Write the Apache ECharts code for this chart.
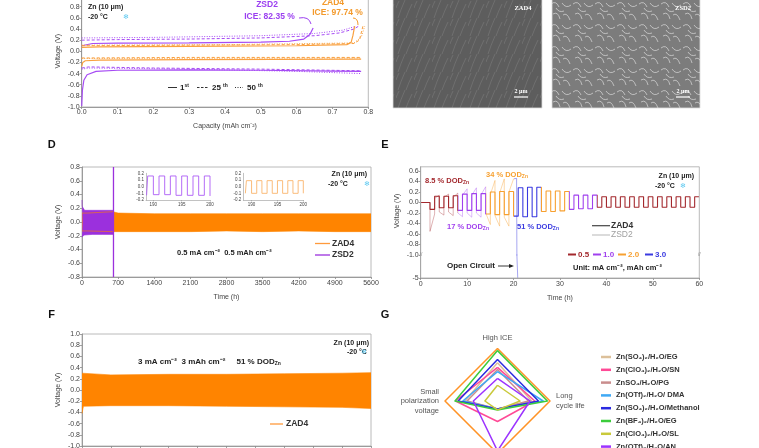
<!DOCTYPE html>
<html>
<head>
<meta charset="utf-8">
<script src="https://cdn.jsdelivr.net/npm/echarts@6/dist/echarts.min.js"></script>
<style>html,body{margin:0;padding:0;background:#fff}#main{width:759px;height:448px}</style>
</head>
<body>
<div id="main"></div>
<script>
var FONT = 'Liberation Sans, Arial, sans-serif';

//------------------ capacity panel (top left) ------------------
var zsd2FirstChg = [[0,0.1],[0.005,0.13],[0.03,0.14],[0.1,0.145],[0.3,0.15],[0.5,0.165],[0.58,0.18],[0.62,0.22],[0.637,0.3],[0.646,0.42]];
var zsd2FirstDis = [[0,-0.98],[0.002,-0.7],[0.006,-0.52],[0.015,-0.42],[0.04,-0.36],[0.1,-0.34],[0.3,-0.335],[0.5,-0.34],[0.7,-0.355],[0.78,-0.36]];
var zsd2Cyc25Chg = [[0,0.2],[0.1,0.21],[0.3,0.22],[0.5,0.24],[0.65,0.28],[0.72,0.33],[0.76,0.4],[0.775,0.46]];
var zsd2Cyc25Dis = [[0,-0.3],[0.02,-0.28],[0.2,-0.3],[0.5,-0.32],[0.78,-0.35]];
var zsd2Cyc50Chg = [[0,0.24],[0.2,0.25],[0.5,0.28],[0.65,0.32],[0.73,0.38],[0.765,0.45]];
var zsd2Cyc50Dis = [[0,-0.32],[0.02,-0.3],[0.3,-0.32],[0.6,-0.36],[0.78,-0.4]];
var zad4FirstChg = [[0,0.07],[0.05,0.08],[0.3,0.09],[0.6,0.1],[0.74,0.12],[0.752,0.16],[0.757,0.28],[0.762,0.45]];
var zad4FirstDis = [[0,-0.27],[0.003,-0.2],[0.01,-0.17],[0.05,-0.16],[0.3,-0.15],[0.78,-0.14]];
var zad4Cyc25Chg = [[0,0.1],[0.3,0.11],[0.6,0.12],[0.76,0.14],[0.775,0.2],[0.785,0.45]];
var zad4Cyc25Dis = [[0,-0.12],[0.3,-0.11],[0.78,-0.11]];
var zad4Cyc50Chg = [[0,0.11],[0.4,0.12],[0.76,0.15],[0.78,0.25],[0.79,0.45]];
var zad4Cyc50Dis = [[0,-0.13],[0.78,-0.12]];

//------------------ panel D ------------------
var dZad4Time  = [0, 100, 600, 700, 1400, 2100, 2800, 3500, 4200, 4900, 5600];
var dZad4Upper = [0.13, 0.13, 0.15, 0.13, 0.12, 0.12, 0.12, 0.12, 0.12, 0.12, 0.12];
var dZad4Lower = [-0.13, -0.13, -0.14, -0.14, -0.14, -0.14, -0.13, -0.14, -0.13, -0.14, -0.14];
var dZsd2Time  = [0, 3, 10, 40, 50, 200, 400, 605];
var dZsd2Upper = [0.32, 0.23, 0.22, 0.21, 0.17, 0.17, 0.17, 0.17];
var dZsd2Lower = [-0.22, -0.2, -0.2, -0.19, -0.18, -0.18, -0.18, -0.18];
var dZsd2FailTime = 610;
var dInsetHours  = [188.8, 189, 190, 191, 192, 193, 194, 195, 196, 197, 198, 199, 200];
var dInsetPurple = [-0.13, 0.16, -0.12, 0.16, -0.12, 0.16, -0.13, 0.16, -0.13, 0.16, -0.13, 0.16, -0.14];
var dInsetOrange = [-0.1, 0.09, -0.1, 0.09, -0.1, 0.09, -0.1, 0.09, -0.1, 0.09, -0.1, 0.09, -0.1];

//------------------ panel E (hourly levels, hour index = time) ------------------
var eZad4Level = [0, 0,
  -0.13, 0.12, -0.1, 0.12, -0.1, 0.13,
  -0.15, 0.16, -0.15, 0.17, -0.15, 0.17,
  -0.22, 0.2, -0.23, 0.21, -0.23, 0.21,
  -0.26, 0.28, -0.27, 0.29, -0.27, 0.29,
  -0.17, 0.22, -0.17, 0.22, -0.16, 0.21,
  -0.13, 0.14, -0.12, 0.14, -0.12, 0.14,
  -0.09, 0.11, -0.09, 0.11, -0.09, 0.11, -0.09, 0.11, -0.09, 0.11, -0.09,
  0.11, -0.09, 0.11, -0.09, 0.11, -0.09, 0.11, -0.09, 0.11, -0.09, 0.11];
var eZsd2Start = [0, 0, -0.55, 0.08, -0.18, 0.1, -0.18, 0.1, -0.2, 0.14, -0.2, 0.14, -0.2, 0.15, -0.2, 0.15, -0.25, 0.18, -0.28, 0.2];
var eZsd2End   = [0, 0, -0.22, 0.14, -0.24, 0.16, -0.25, 0.18, -0.27, 0.26, -0.28, 0.28, -0.28, 0.3, -0.42, 0.42, -0.45, 0.45, -0.45, 0.45];
var eZsd2Tail  = [[20, 0.42], [20.65, 0.46], [20.9, -5]];
var eRateStart = [0, 8, 14, 20, 26, 32, 38];
var eRateEnd   = [8, 14, 20, 26, 32, 38, 60];
var eRateColor = ['#a3282d', '#a040ee', '#f7a030', '#3a3ae0', '#f7a030', '#a040ee', '#a3282d'];
var eRateLight = ['rgba(163,40,45,0.4)', 'rgba(160,64,238,0.4)', 'rgba(247,160,48,0.45)', 'rgba(58,58,224,0.5)', 'rgba(247,160,48,0.45)', 'rgba(160,64,238,0.4)', 'rgba(163,40,45,0.4)'];

//------------------ panel F ------------------
var fTime  = [0, 5, 100, 300, 500, 700, 900, 1000];
var fUpper = [0.3, 0.27, 0.27, 0.28, 0.28, 0.29, 0.3, 0.31];
var fLower = [-0.42, -0.29, -0.28, -0.28, -0.29, -0.3, -0.31, -0.33];

//------------------ panel G (radar) ------------------
var gAxes   = ['High ICE', 'Small\npolarization\nvoltage', 'High DOD', 'Long\ncycle life'];
var gNames  = ['ZAD4', 'Zn(SO₄)₂/H₂O/EG', 'Zn(ClO₄)₂/H₂O/SN', 'ZnSO₄/H₂O/PG', 'Zn(OTf)₂/H₂O/ DMA', 'Zn(SO₄)₂/H₂O/Methanol', 'Zn(BF₄)₂/H₂O/EG', 'Zn(ClO₄)₂/H₂O/SL', 'Zn(OTf)₂/H₂O/AN'];
var gColors = ['#ff9326', '#dcc09a', '#ff4a96', '#c98d8d', '#3fa9f5', '#2a2ae0', '#3ccc3c', '#c9c93a', '#9c33ff'];
var gValues = [
  [1, 1, 1, 1],
  [0.73, 0.62, 0.15, 0.65],
  [0.64, 0.8, 0.39, 0.71],
  [0.6, 0.58, 0.15, 0.59],
  [0.56, 0.66, 0.15, 0.87],
  [0.79, 0.75, 0.15, 0.78],
  [0.96, 0.81, 0.17, 0.95],
  [0.3, 0.24, 0.17, 0.43],
  [0.43, 0.46, 0.95, 0.62]
];

//------------------ helpers ------------------
function pairs(xs, ys) {
    var out = [];
    for (var i = 0; i < xs.length; i++) out.push([xs[i], ys[i]]);
    return out;
}
function fix1(v) { return v.toFixed(1); }
function plain(v) { return String(v); }
function box(left, top, width, height, border) {
    return {left: left, top: top, width: width, height: height, show: border,
        borderColor: '#a8a8a8', borderWidth: 0.8, backgroundColor: 'transparent', outerBoundsMode: 'none'};
}
function vAxis(gi, min, max, itv, extra) {
    var a = {type: 'value', gridIndex: gi, min: min, max: max, interval: itv,
        axisLine: {show: true, onZero: false, lineStyle: {color: '#8a8a8a', width: 0.8}},
        axisTick: {show: true, length: 2, lineStyle: {color: '#8a8a8a', width: 0.8}},
        axisLabel: {fontSize: 7, color: '#444', margin: 2, fontFamily: FONT, formatter: fix1},
        splitLine: {show: false},
        nameLocation: 'middle',
        nameTextStyle: {fontSize: 7, color: '#444', fontFamily: FONT}};
    for (var k in extra) a[k] = extra[k];
    return a;
}
function lineS(xi, data, color, width, dash, extra) {
    var s = {type: 'line', xAxisIndex: xi, yAxisIndex: xi, data: data, symbol: 'none',
        lineStyle: {width: width, type: dash || 'solid'}, z: 3};
    if (color) { s.lineStyle.color = color; s.itemStyle = {color: color}; }
    for (var k in extra) s[k] = extra[k];
    return s;
}
function bandS(xi, data, color) {
    return lineS(xi, data, color, 0.6, null, {areaStyle: {color: color, opacity: 1}});
}

// texture tiles for the two micrograph placeholders
function tile(w, bg, strokes, col, lw) {
    var c = document.createElement('canvas');
    c.width = w; c.height = w;
    var g = c.getContext('2d');
    g.fillStyle = bg; g.fillRect(0, 0, w, w);
    g.strokeStyle = col; g.lineWidth = lw;
    for (var i = 0; i < strokes.length; i++) {
        var s = strokes[i];
        g.beginPath(); g.moveTo(s[0], s[1]); g.quadraticCurveTo(s[2], s[3], s[4], s[5]); g.stroke();
    }
    return c;
}
var semFlat = tile(18, '#5d5d5d', [[2, 18, 5, 9, 9, 0], [10, 18, 12, 12, 16, 4], [0, 8, 1, 5, 3, 1]], 'rgba(150,150,150,0.55)', 0.6);
var semRough = tile(22, '#7c7c7c', [[1, 4, 6, 0, 9, 7], [12, 3, 16, 9, 21, 5], [3, 14, 8, 11, 10, 19], [13, 15, 17, 12, 20, 20], [6, 8, 9, 13, 14, 11]], 'rgba(235,235,235,0.75)', 0.8);

var graphics = [];
function T(x, y, s, o) {
    var st = {text: s, x: 0, y: 0, fontSize: 7.5, fontWeight: 'bold', fontFamily: FONT, fill: '#222', align: 'left', verticalAlign: 'middle',
        rich: {sup: {fontSize: 5, fontWeight: 'bold', fontFamily: FONT, verticalAlign: 'top'},
               sub: {fontSize: 5, fontWeight: 'bold', fontFamily: FONT, verticalAlign: 'bottom'}}};
    for (var k in o) st[k] = o[k];
    if (o && o.fill) { st.rich.sup.fill = o.fill; st.rich.sub.fill = o.fill; }
    graphics.push({type: 'text', x: x, y: y, z: 10, style: st});
}
function L(x1, y1, x2, y2, color, w, dash) {
    graphics.push({type: 'line', z: 10, shape: {x1: x1, y1: y1, x2: x2, y2: y2},
        style: {stroke: color, lineWidth: w, lineDash: dash || null}});
}
function snow(x, y) { T(x, y, '❄', {fill: '#55c6f0', fontSize: 7, fontWeight: 'normal', align: 'center'}); }

//------------------ series ------------------
var series = [];
var PUR = '#a64bf4', ORA = '#f9a03f';
series.push(lineS(0, zsd2Cyc50Chg, PUR, 1, [1, 1.5]));
series.push(lineS(0, zsd2Cyc50Dis, PUR, 1, [1, 1.5]));
series.push(lineS(0, zsd2Cyc25Chg, PUR, 1, [3, 2]));
series.push(lineS(0, zsd2Cyc25Dis, PUR, 1, [3, 2]));
series.push(lineS(0, zsd2FirstChg, PUR, 1.2));
series.push(lineS(0, zsd2FirstDis, PUR, 1.2));
series.push(lineS(0, zad4Cyc50Chg, ORA, 1, [1, 1.5]));
series.push(lineS(0, zad4Cyc50Dis, ORA, 1, [1, 1.5]));
series.push(lineS(0, zad4Cyc25Chg, ORA, 1, [3, 2]));
series.push(lineS(0, zad4Cyc25Dis, ORA, 1, [3, 2]));
series.push(lineS(0, zad4FirstChg, ORA, 1.2));
series.push(lineS(0, zad4FirstDis, ORA, 1.2));

// D
series.push(bandS(1, pairs(dZad4Time, dZad4Upper), '#ff8400'));
series.push(bandS(1, pairs(dZad4Time, dZad4Lower), '#ff8400'));
series.push(bandS(1, pairs(dZsd2Time, dZsd2Upper), '#9b30dd'));
series.push(bandS(1, pairs(dZsd2Time, dZsd2Lower), '#9b30dd'));
series.push(lineS(1, [[dZsd2FailTime, -0.8], [dZsd2FailTime, 0.8]], '#9b30dd', 1.3));
series.push(lineS(2, pairs(dInsetHours, dInsetPurple), '#ad5cf6', 0.9, null, {step: 'end'}));
series.push(lineS(3, pairs(dInsetHours, dInsetOrange), '#f9b46c', 0.9, null, {step: 'end'}));

// E
var eZsd2Data = [];
for (var h = 0; h < eZsd2Start.length; h++) {
    eZsd2Data.push([h, eZsd2Start[h]]);
    eZsd2Data.push([h + 1, eZsd2End[h]]);
}
eZsd2Data = eZsd2Data.concat(eZsd2Tail);
var eZad4Data = [];
for (var j = 0; j < eZad4Level.length; j++) eZad4Data.push([j, eZad4Level[j]]);
eZad4Data.push([eZad4Level.length, eZad4Level[eZad4Level.length - 1]]);
var eZsd2Idx = series.length;
series.push(lineS(4, eZsd2Data, null, 0.9));
var eZad4Idx = series.length;
series.push(lineS(4, eZad4Data, null, 1.1, null, {step: 'end'}));
series.push(lineS(5, eZsd2Tail, eRateLight[3], 0.9));

// F
series.push(bandS(6, pairs(fTime, fUpper), '#ff8400'));
series.push(bandS(6, pairs(fTime, fLower), '#ff8400'));

// G
var radarData = [];
for (var r = 0; r < gNames.length; r++) {
    radarData.push({name: gNames[r], value: gValues[r],
        itemStyle: {color: gColors[r]}, lineStyle: {color: gColors[r], width: 1.5}});
}
series.push({type: 'radar', radarIndex: 0, symbol: 'none', data: radarData, z: 3});

function pieces(cols) {
    var p = [];
    for (var i = 0; i < eRateStart.length; i++) {
        if (i === eRateStart.length - 1) p.push({gte: eRateStart[i], lte: eRateEnd[i], color: cols[i]});
        else p.push({gte: eRateStart[i], lt: eRateEnd[i], color: cols[i]});
    }
    return p;
}

//------------------ texts ------------------
// top left
T(88, 7, 'Zn (10 μm)', {fontSize: 7});
T(88, 17.5, '-20 °C', {fontSize: 7});
snow(126, 17.5);
T(267, 5, 'ZSD2', {fill: '#9b3ff0', fontSize: 8.5, align: 'center'});
T(269.5, 16.5, 'ICE: 82.35 %', {fill: '#9b3ff0', fontSize: 8.5, align: 'center'});
T(333, 3, 'ZAD4', {fill: '#f39a2c', fontSize: 8.5, align: 'center'});
T(337.5, 12.5, 'ICE: 97.74 %', {fill: '#f39a2c', fontSize: 8.5, align: 'center'});
graphics.push({type: 'bezierCurve', z: 10, shape: {x1: 299, y1: 18, x2: 311, y2: 24, cpx1: 309, cpy1: 16},
    style: {stroke: '#9b3ff0', lineWidth: 1, fill: null}});
graphics.push({type: 'bezierCurve', z: 10, shape: {x1: 353, y1: 18, x2: 358, y2: 25, cpx1: 358, cpy1: 18},
    style: {stroke: '#f39a2c', lineWidth: 1, fill: null}});
L(168, 87.5, 177, 87.5, '#333', 1);
T(180, 87.5, '1{sup|st}', {fontSize: 8});
L(197, 87.5, 208, 87.5, '#333', 1, [2.5, 1.5]);
T(212, 87.5, '25 {sup|th}', {fontSize: 8});
L(235, 87.5, 243, 87.5, '#333', 1, [1, 1.5]);
T(247, 87.5, '50 {sup|th}', {fontSize: 8});

// SEM micrographs (placeholders)
graphics.push({type: 'rect', z: 1, shape: {x: 393, y: -2, width: 149, height: 110},
    style: {fill: {image: semFlat, repeat: 'repeat'}, stroke: '#ddd', lineWidth: 0.8}});
graphics.push({type: 'rect', z: 1, shape: {x: 552, y: -2, width: 148, height: 110},
    style: {fill: {image: semRough, repeat: 'repeat'}, stroke: '#ddd', lineWidth: 0.8}});
T(523, 8, 'ZAD4', {fill: '#fff', fontSize: 6.5, align: 'center', fontFamily: 'Liberation Serif, serif'});
T(683, 8, 'ZSD2', {fill: '#fff', fontSize: 6.5, align: 'center', fontFamily: 'Liberation Serif, serif'});
T(521, 91, '2 μm', {fill: '#fff', fontSize: 6, align: 'center', fontFamily: 'Liberation Serif, serif'});
L(514, 97, 528, 97, '#fff', 1.2);
T(683, 91, '2 μm', {fill: '#fff', fontSize: 6, align: 'center', fontFamily: 'Liberation Serif, serif'});
L(676, 97, 690, 97, '#fff', 1.2);

// panel letters
T(51.7, 145, 'D', {fontSize: 11, align: 'center', fill: '#111'});
T(385, 145, 'E', {fontSize: 11, align: 'center', fill: '#111'});
T(51.7, 315, 'F', {fontSize: 11, align: 'center', fill: '#111'});
T(385, 315, 'G', {fontSize: 11, align: 'center', fill: '#111'});

// D
T(367, 174.5, 'Zn (10 μm)', {fontSize: 7, align: 'right'});
T(328, 184.5, '-20 °C', {fontSize: 7});
snow(367, 184.5);
T(177, 252.5, '0.5 mA cm⁻²  0.5 mAh cm⁻²', {fontSize: 7.5});
L(315, 243.5, 330, 243.5, '#ff9a3c', 1.3);
T(332, 243.5, 'ZAD4', {fontSize: 8.5, fill: '#333'});
L(315, 255, 330, 255, '#9b30dd', 1.3);
T(332, 255, 'ZSD2', {fontSize: 8.5, fill: '#333'});

// E
graphics.push({type: 'rect', z: 9, shape: {x: 420.7, y: 166.8, width: 278.6, height: 111.2},
    style: {fill: null, stroke: '#a8a8a8', lineWidth: 0.8}});
T(421, 255, '//', {fontSize: 5, fontWeight: 'normal', fill: '#888', align: 'center'});
T(699.3, 255, '//', {fontSize: 5, fontWeight: 'normal', fill: '#888', align: 'center'});
T(425, 181, '8.5 % DOD{sub|Zn}', {fill: '#a3282d', fontSize: 7.5});
T(447, 227, '17 % DOD{sub|Zn}', {fill: '#a040ee', fontSize: 7.5});
T(486, 175, '34 % DOD{sub|Zn}', {fill: '#f7a030', fontSize: 7.5});
T(517, 227, '51 % DOD{sub|Zn}', {fill: '#3a3ae0', fontSize: 7.5});
L(592, 225.7, 610, 225.7, '#444', 1.2);
T(611, 225.7, 'ZAD4', {fontSize: 8.5, fill: '#333'});
L(592, 235, 610, 235, '#c4c4c4', 1.2);
T(611, 235, 'ZSD2', {fontSize: 8.5, fill: '#a0a0a0', fontWeight: 'normal'});
var rateLbl = ['0.5', '1.0', '2.0', '3.0'];
var rateX = [568, 593, 618, 645];
var rateC = ['#a3282d', '#a040ee', '#f7a030', '#3a3ae0'];
for (var q = 0; q < 4; q++) {
    L(rateX[q], 254.5, rateX[q] + 8, 254.5, rateC[q], 2);
    T(rateX[q] + 10, 254.5, rateLbl[q], {fill: rateC[q], fontSize: 8});
}
T(573, 267.5, 'Unit: mA cm⁻², mAh cm⁻²', {fontSize: 7.5});
T(447, 266, 'Open Circuit', {fontSize: 8});
L(498, 266, 512, 266, '#222', 0.9);
graphics.push({type: 'polygon', z: 10, shape: {points: [[514, 266], [509, 264], [509, 268]]}, style: {fill: '#222'}});
T(694, 176.5, 'Zn (10 μm)', {fontSize: 7, align: 'right'});
T(655, 186.5, '-20 °C', {fontSize: 7});
snow(683, 186.5);

// F
T(369, 343, 'Zn (10 μm)', {fontSize: 7, align: 'right'});
T(347, 352.5, '-20 °C', {fontSize: 7});
snow(364, 352.5);
T(138, 362, '3 mA cm⁻²  3 mAh cm⁻²     51 % DOD{sub|Zn}', {fontSize: 8});
L(270, 424, 283, 424, '#ff9a3c', 1.3);
T(286, 424, 'ZAD4', {fontSize: 8.5, fill: '#333'});

//------------------ option ------------------
var option = {
    animation: false,
    backgroundColor: '#fff',
    textStyle: {fontFamily: FONT},
    grid: [
        box(81.7, -4.4, 286.6, 111.4, true),
        box(82, 167, 289, 110, true),
        box(146, 173.3, 64, 26.7, false),
        box(243.3, 173.3, 60, 26.7, false),
        box(420.7, 166.8, 278.6, 88.2, false),
        box(420.7, 255, 278.6, 23, false),
        box(82, 334, 289, 112, true)
    ],
    xAxis: [
        vAxis(0, 0, 0.8, 0.1, {name: 'Capacity (mAh cm⁻²)', nameGap: 16}),
        vAxis(1, 0, 5600, 700, {name: 'Time (h)', nameGap: 17,
            axisLabel: {fontSize: 7, color: '#444', margin: 3, fontFamily: FONT, formatter: plain}}),
        vAxis(2, 188.7, 200, 5, {axisTick: {show: true, length: 1.5, customValues: [190, 195, 200], lineStyle: {color: '#999', width: 0.6}},
            axisLine: {show: true, onZero: false, lineStyle: {color: '#999', width: 0.6}},
            axisLabel: {fontSize: 4.5, color: '#444', margin: 2, fontFamily: FONT, customValues: [190, 195, 200], formatter: plain}}),
        vAxis(3, 188.4, 200, 5, {axisTick: {show: true, length: 1.5, customValues: [190, 195, 200], lineStyle: {color: '#999', width: 0.6}},
            axisLine: {show: true, onZero: false, lineStyle: {color: '#999', width: 0.6}},
            axisLabel: {fontSize: 4.5, color: '#444', margin: 2, fontFamily: FONT, customValues: [190, 195, 200], formatter: plain}}),
        vAxis(4, 0, 60, 10, {show: false}),
        vAxis(5, 0, 60, 10, {name: 'Time (h)', nameGap: 17,
            axisLabel: {fontSize: 7, color: '#444', margin: 3, fontFamily: FONT, formatter: plain}}),
        vAxis(6, 0, 1000, 100, {axisLabel: {show: false}})
    ],
    yAxis: [
        vAxis(0, -1, 1, 0.2, {name: 'Voltage (V)', nameGap: 20}),
        vAxis(1, -0.8, 0.8, 0.2, {name: 'Voltage (V)', nameGap: 20}),
        vAxis(2, -0.2, 0.2, 0.1, {axisTick: {show: false}, axisLine: {show: true, onZero: false, lineStyle: {color: '#999', width: 0.6}},
            axisLabel: {fontSize: 4.5, color: '#444', margin: 2, fontFamily: FONT, formatter: fix1}}),
        vAxis(3, -0.2, 0.2, 0.1, {axisTick: {show: false}, axisLine: {show: true, onZero: false, lineStyle: {color: '#999', width: 0.6}},
            axisLabel: {fontSize: 4.5, color: '#444', margin: 2, fontFamily: FONT, formatter: fix1}}),
        vAxis(4, -1, 0.68, 0.2, {name: 'Voltage (V)', nameGap: 20,
            axisLabel: {fontSize: 7, color: '#444', margin: 2, fontFamily: FONT, formatter: fix1, showMaxLabel: false}}),
        vAxis(5, -5, -1, 4, {axisLabel: {fontSize: 7, color: '#444', margin: 2, fontFamily: FONT, showMaxLabel: false, formatter: plain}}),
        vAxis(6, -1, 1, 0.2, {name: 'Voltage (V)', nameGap: 20})
    ],
    radar: {
        center: [497.5, 401],
        radius: 52.5,
        startAngle: 90,
        indicator: gAxes.map(function (n) { return {name: n, max: 1, min: 0}; }),
        nameGap: 6,
        axisName: {color: '#555', fontSize: 7.5, fontFamily: FONT, lineHeight: 9.5},
        axisLine: {show: false},
        splitLine: {show: false},
        splitArea: {show: false},
        axisTick: {show: false},
        axisLabel: {show: false}
    },
    legend: {
        orient: 'vertical',
        left: 596,
        top: 347.5,
        height: 300,
        icon: 'rect',
        itemWidth: 10,
        itemHeight: 2.5,
        itemGap: 3.8,
        data: gNames.slice(1),
        textStyle: {fontSize: 7.5, fontWeight: 'bold', color: '#333', fontFamily: FONT, lineHeight: 9},
        selectedMode: false
    },
    visualMap: [
        {type: 'piecewise', show: false, dimension: 0, seriesIndex: eZad4Idx, pieces: pieces(eRateColor)},
        {type: 'piecewise', show: false, dimension: 0, seriesIndex: eZsd2Idx, pieces: pieces(eRateLight)}
    ],
    graphic: graphics,
    series: series
};

var chart = echarts.init(document.getElementById('main'));
chart.setOption(option, true);
</script>
</body>
</html>
